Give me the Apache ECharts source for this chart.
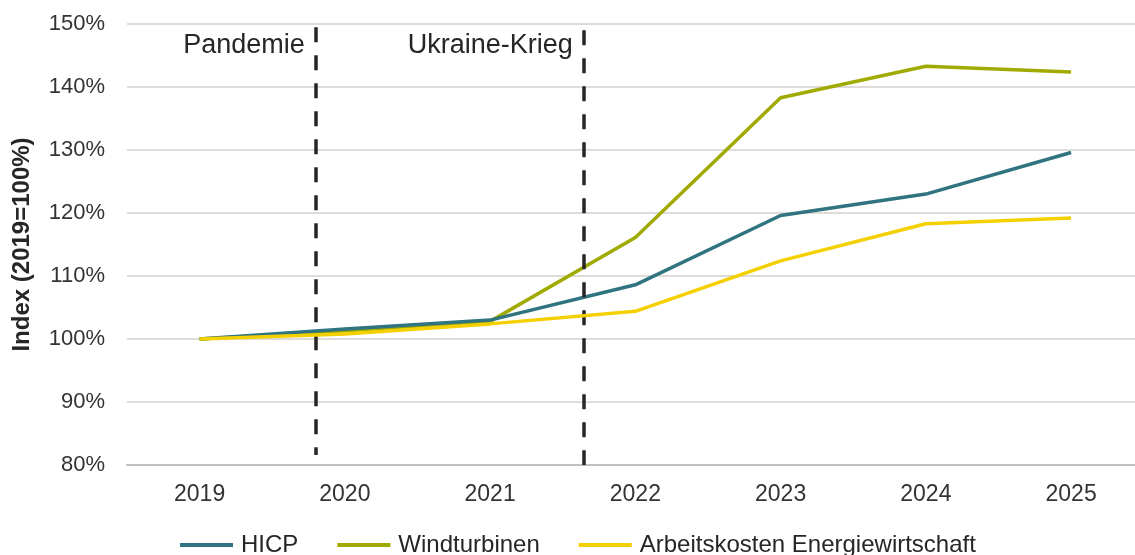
<!DOCTYPE html>
<html style="height: 100%">
<head>
<meta charset="utf-8">
</head>
<body style="height: 100%; margin: 0">
<div id="container" style="width: 1135px; height: 555px"></div>
<script type="text/javascript" src="https://cdn.jsdelivr.net/npm/echarts@6/dist/echarts.min.js"></script>
<script type="text/javascript">
var years = [2019, 2020, 2021, 2022, 2023, 2024, 2025];
var hicp = [100, 101.6, 103.0, 108.6, 119.6, 123.0, 129.6];
var wind = [100, 101.3, 102.8, 116.1, 138.3, 143.3, 142.4];
var arbeit = [100, 100.8, 102.4, 104.4, 112.4, 118.3, 119.2];
var events = [
    { name: 'Pandemie', x: 2019.8, top: 149.5, bottom: 81.6 },
    { name: 'Ukraine-Krieg', x: 2021.645, top: 149, bottom: 80 }
];

var dom = document.getElementById('container');
var myChart = echarts.init(dom);
var font = 'Liberation Sans, Arial, sans-serif';

function pairs(vals) {
    return years.map(function (y, i) { return [y, vals[i]]; });
}

var option = {
    animation: false,
    textStyle: { fontFamily: font },
    grid: { left: 127, top: 24, right: 0, height: 441 },
    legend: {
        top: 528,
        left: 175,
        itemWidth: 53,
        itemHeight: 4,
        itemGap: 39,
        icon: 'rect',
        textStyle: { fontSize: 24, color: '#262626', fontFamily: font, padding: [0, 0, 0, 3] },
        data: ['HICP', 'Windturbinen', 'Arbeitskosten Energiewirtschaft']
    },
    xAxis: {
        type: 'value',
        min: 2018.5,
        max: 2025.44,
        interval: 0.5,
        splitLine: { show: false },
        axisTick: { show: false },
        axisLine: { lineStyle: { color: '#bfbfbf', width: 2 } },
        axisLabel: {
            fontSize: 23, color: '#333', margin: 18,
            formatter: function (v) { return years.indexOf(v) >= 0 ? String(v) : ''; },
            showMinLabel: false, showMaxLabel: false
        }
    },
    yAxis: {
        type: 'value',
        min: 80,
        max: 150,
        interval: 10,
        name: 'Index (2019=100%)',
        nameLocation: 'middle',
        nameGap: 93,
        nameTextStyle: { fontSize: 24, fontWeight: 'bold', color: '#262626', fontFamily: font },
        axisLine: { show: false },
        axisTick: { show: false },
        axisLabel: { fontSize: 22, color: '#333', margin: 22, formatter: '{value}%' },
        splitLine: { lineStyle: { color: '#dedbd8', width: 2 } }
    },
    series: [
        {
            name: 'HICP', type: 'line', data: pairs(hicp), symbol: 'none', z: 4,
            lineStyle: { color: '#2f7480', width: 3.5 }, itemStyle: { color: '#2f7480' },
            markLine: {
                silent: true, symbol: 'none', label: { show: false },
                lineStyle: { color: '#262626', width: 3.5, type: [15, 13] },
                data: events.map(function (e) {
                    return [{ coord: [e.x, e.top] }, { coord: [e.x, e.bottom] }];
                })
            },
            markPoint: {
                symbol: 'circle', symbolSize: 0, silent: true,
                label: {
                    show: true, position: 'left', distance: 11, fontSize: 27, color: '#262626',
                    formatter: function (p) { return p.name; }
                },
                data: events.map(function (e) {
                    return { name: e.name, coord: [e.x, 146.6] };
                })
            }
        },
        {
            name: 'Windturbinen', type: 'line', data: pairs(wind), symbol: 'none', z: 3,
            lineStyle: { color: '#a0aa00', width: 3.5 }, itemStyle: { color: '#a0aa00' }
        },
        {
            name: 'Arbeitskosten Energiewirtschaft', type: 'line', data: pairs(arbeit), symbol: 'none', z: 5,
            lineStyle: { color: '#f5d000', width: 3.5 }, itemStyle: { color: '#f5d000' }
        }
    ]
};

if (option && typeof option === 'object') {
    myChart.setOption(option);
}
</script>
</body>
</html>
